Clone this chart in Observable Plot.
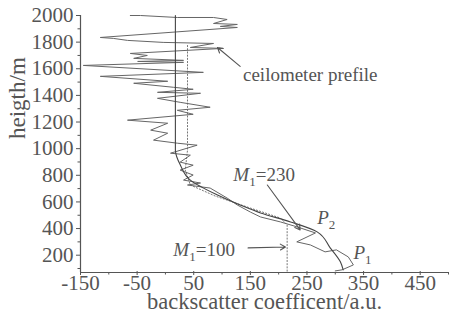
<!DOCTYPE html>
<html><head><meta charset="utf-8">
<script src="https://cdn.jsdelivr.net/npm/d3@7"></script>
<script src="https://cdn.jsdelivr.net/npm/@observablehq/plot@0.6"></script>
<style>
body{margin:0;background:#fff}
svg, svg text {font-family: "Liberation Serif", "Times New Roman", serif !important;}
</style>
</head><body><div id="chart"></div>
<script>
const xTicks = [-150, -50, 50, 150, 250, 350, 450];
const xMinor = [-100, 0, 100, 200, 300, 400, 500];
const yTicks = [200, 400, 600, 800, 1000, 1200, 1400, 1600, 1800, 2000];
const yMinor = [100, 300, 500, 700, 900, 1100, 1300, 1500, 1700, 1900];

// ceilometer profile (backscatter, height)
const profileX = [-62, -44, 21, 85, 109, 85, 127, 97, 127, -115, -92, -67, -4, 85, 44, 102, -62, -32, -56, 32, -49, 32, -145, 67, -115, 4, -56, 14, 49, -14, 62, -14, 26, 79, 21, 49, -67, 4, -26, 4, -21, 21, 56, 9, 44, 26, 49, 26, 49, 32, 62, 39, 79, 109, 127, 150, 168, 203, 233, 265, 232, 256, 282, 302, 323, 332, 312, 300];
const profileY = [2000, 2000, 1985, 1985, 1970, 1940, 1933, 1918, 1910, 1835, 1828, 1813, 1798, 1790, 1760, 1753, 1715, 1700, 1678, 1663, 1655, 1648, 1625, 1573, 1543, 1506, 1491, 1461, 1446, 1423, 1416, 1378, 1348, 1311, 1288, 1258, 1214, 1191, 1139, 1116, 1064, 1041, 1026, 966, 951, 899, 876, 839, 802, 764, 742, 727, 704, 629, 577, 524, 487, 450, 412, 367, 300, 277, 225, 240, 187, 127, 90, 82];

// fitted curve (solid)
const fitX = [17.6, 17.6, 26.5, 44, 92, 132, 168, 221, 268, 291, 309, 314];
const fitY = [2000, 989, 876, 764, 652, 577, 517, 450, 375, 255, 150, 90];

// second fit (dotted)
const dotX = [39, 39, 35, 44, 88, 150, 203, 215, 215];
const dotY = [1775, 989, 839, 727, 644, 554, 479, 427, 70];

// annotations
const annoMain = ["M", "M", "P", "P"];
const annoSub = ["1", "1", "2", "1"];
const annoRest = ["=230", "=100", "", ""];
const annoX = [120, 14, 268, 332];
const annoY = [802, 240, 480, 217];

const ceiloLabel = ["ceilometer prefile"];
const ceiloX = [137];
const ceiloY = [1551];

const arrowX1 = [132, 180, 146];
const arrowY1 = [1618, 727, 255];
const arrowX2 = [92, 238, 212];
const arrowY2 = [1760, 390, 262];

const xLabel = ["backscatter coefficent/a.u."];
const yLabel = ["heigth/m"];

const idx = d3.range(annoMain.length);
const pIdx = d3.range(profileX.length);
const fIdx = d3.range(fitX.length);
const dIdx = d3.range(dotX.length);
const aIdx = d3.range(arrowX1.length);
const annoFull = idx.map(i => annoMain[i] + annoSub[i] + annoRest[i]);

const ink = "#555";

const chart = Plot.plot({
  width: 451, height: 325,
  marginLeft: 80, marginRight: 3, marginTop: 15, marginBottom: 53,
  x: {domain: [-150, 500]},
  y: {domain: [70, 2000]},
  style: {fontFamily: "Liberation Serif", color: ink, background: "#fff"},
  marks: [
    Plot.axisX({ticks: xTicks, tickSize: 4, tickPadding: 0, dy: -1, fontSize: 21, tickFormat: d => String(d), label: null}),
    Plot.axisX({ticks: xMinor, tickSize: 2.5, tickFormat: () => "", label: null}),
    Plot.axisY({ticks: yTicks, tickSize: 4, tickPadding: 3, fontSize: 21, tickFormat: d => String(d), label: null}),
    Plot.axisY({ticks: yMinor, tickSize: 2.5, tickFormat: () => "", label: null}),
    Plot.ruleX([-150], {stroke: ink, strokeWidth: 1.2}),
    Plot.ruleY([70], {stroke: ink, strokeWidth: 1.2}),
    Plot.line(dIdx, {x: i => dotX[i], y: i => dotY[i], stroke: "#777", strokeWidth: 1, strokeDasharray: "1.2,2"}),
    Plot.line(pIdx, {x: i => profileX[i], y: i => profileY[i], stroke: "#666", strokeWidth: 1}),
    Plot.line(fIdx, {x: i => fitX[i], y: i => fitY[i], stroke: "#444", strokeWidth: 1.1, curve: "monotone-y"}),
    Plot.arrow(aIdx, {x1: i => arrowX1[i], y1: i => arrowY1[i], x2: i => arrowX2[i], y2: i => arrowY2[i], stroke: "#555", strokeWidth: 1.1, headLength: 8}),
    Plot.text(ceiloLabel, {x: ceiloX, y: ceiloY, textAnchor: "start", fontSize: 19, fill: ink}),
    Plot.text(idx, {x: i => annoX[i], y: i => annoY[i], text: i => annoFull[i], textAnchor: "start", fontSize: 19, fill: ink}),
    Plot.text(xLabel, {frameAnchor: "bottom", dy: 36, fontSize: 22.5, fill: ink}),
    Plot.text(yLabel, {frameAnchor: "left", dx: -63, dy: -5, rotate: -90, fontSize: 23, fill: ink})
  ]
});

const ns = "http://www.w3.org/2000/svg";
chart.querySelectorAll("text").forEach(t => {
  const i = annoFull.indexOf(t.textContent);
  if (i < 0) return;
  while (t.firstChild) t.removeChild(t.firstChild);
  const a = document.createElementNS(ns, "tspan");
  a.setAttribute("font-style", "italic");
  a.textContent = annoMain[i];
  const b = document.createElementNS(ns, "tspan");
  b.setAttribute("font-size", "13");
  b.setAttribute("dy", "5");
  b.textContent = annoSub[i];
  t.appendChild(a); t.appendChild(b);
  if (annoRest[i]) {
    const c = document.createElementNS(ns, "tspan");
    c.setAttribute("dy", "-5");
    c.textContent = annoRest[i];
    t.appendChild(c);
  }
});
document.getElementById("chart").appendChild(chart);
</script>
</body></html>
